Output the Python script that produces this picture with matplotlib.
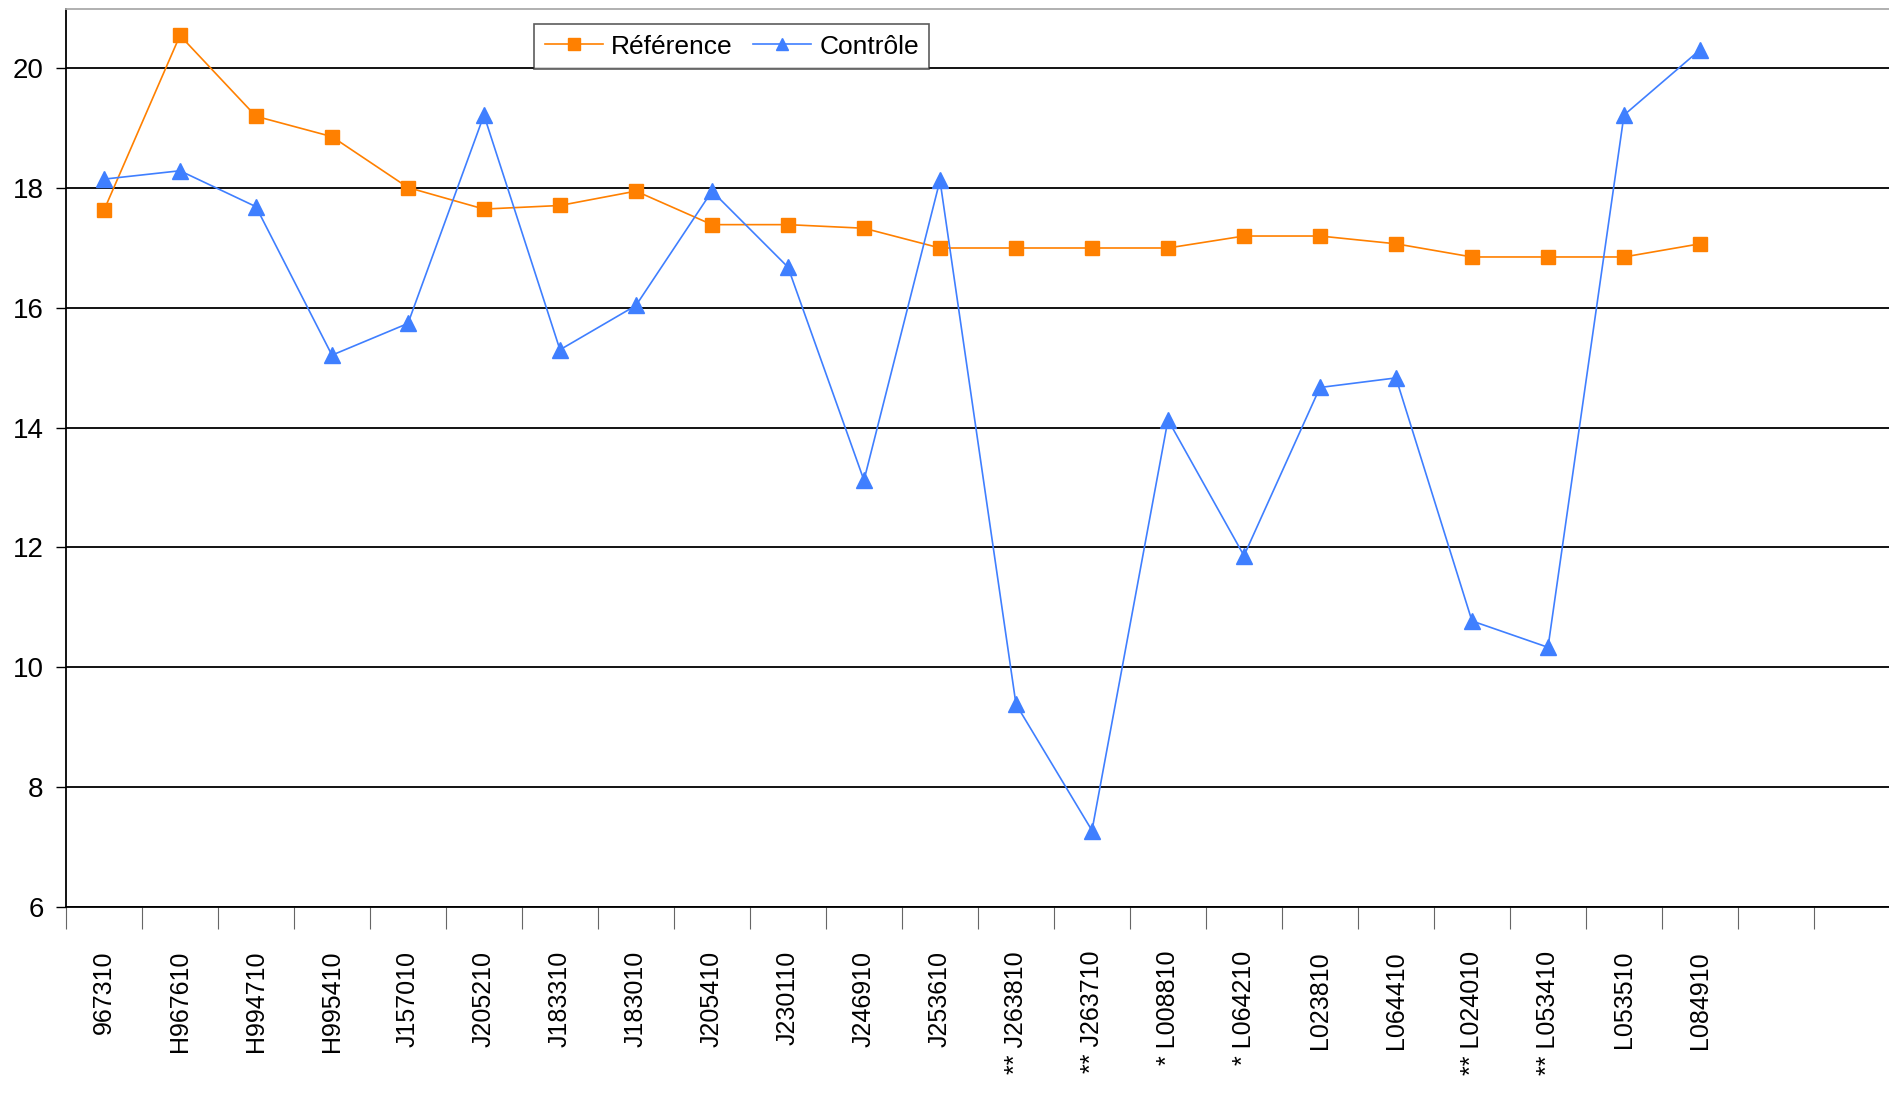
import numpy as np
import matplotlib.pyplot as plt
from matplotlib.ticker import FixedLocator

# categories (24 slots on the axis, only 22 carry data)
samples = ['967310', 'H967610', 'H994710', 'H995410', 'J157010', 'J205210',
           'J183310', 'J183010', 'J205410', 'J230110', 'J246910', 'J253610',
           '** J263810', '** J263710', '* L008810', '* L064210', 'L023810',
           'L064410', '** L024010', '** L053410', 'L053510', 'L084910']
n_slots = 24

reference = [17.63, 20.55, 19.2, 18.86, 18.01, 17.65, 17.71, 17.95, 17.39, 17.39,
             17.33, 17.0, 17.0, 17.0, 17.0, 17.2, 17.2, 17.07, 16.85, 16.85,
             16.85, 17.07]
controle = [18.15, 18.29, 17.69, 15.21, 15.74, 19.22, 15.3, 16.04, 17.95, 16.68,
            13.12, 18.13, 9.38, 7.27, 14.13, 11.86, 14.67, 14.83, 10.77, 10.33,
            19.22, 20.31]

y_ticks = [6, 8, 10, 12, 14, 16, 18, 20]

plt.rcParams['font.family'] = ['Liberation Sans', 'DejaVu Sans']

fig = plt.figure(figsize=(18.9, 10.93), dpi=100)
ax = fig.add_axes([0.0349, 0.1706, 0.9651, 0.8216])

x = np.arange(len(samples))
ax.plot(x, reference, color='#FF8000', lw=1.2, marker='s', ms=10,
        mec='#FF8000', mfc='#FF8000', label='Référence', zorder=3)
ax.plot(x, controle, color='#3F7FFF', lw=1.2, marker='^', ms=11,
        mec='#3F7FFF', mfc='#3F7FFF', label='Contrôle', zorder=3)

ax.set_xlim(-0.5, n_slots - 0.5)
ax.set_ylim(6, 21)

# y axis
ax.set_yticks(y_ticks)
ax.set_yticklabels([str(v) for v in y_ticks], fontsize=20)
ax.tick_params(axis='y', direction='out', length=7, width=1, color='black', pad=9)
ax.yaxis.grid(True, color='black', lw=1.3)
ax.set_axisbelow(True)

# x axis: labels at centers, tick marks between categories
ax.set_xticks(x)
ax.set_xticklabels(samples, rotation=90, fontsize=18)
ax.tick_params(axis='x', which='major', length=0, pad=32)
ax.xaxis.set_minor_locator(FixedLocator(np.arange(-0.5, n_slots, 1.0)))
ax.tick_params(axis='x', which='minor', direction='out', length=16,
               width=0.8, color='#666666')

for side in ['left', 'bottom']:
    ax.spines[side].set_color('black')
    ax.spines[side].set_linewidth(1.3)
ax.spines['top'].set_color('#aaaaaa')
ax.spines['top'].set_linewidth(1.3)
ax.spines['right'].set_visible(False)

leg = ax.legend(loc='upper left', bbox_to_anchor=(0.2566, 0.9826), ncol=2,
                prop={'size': 19}, frameon=True, fancybox=False,
                edgecolor='#333333', handlelength=2.2, markerscale=0.85,
                columnspacing=0.8, handletextpad=0.3, borderpad=0.4,
                borderaxespad=0)
leg.get_frame().set_linewidth(1.2)

fig.savefig('out.png', dpi=100)
